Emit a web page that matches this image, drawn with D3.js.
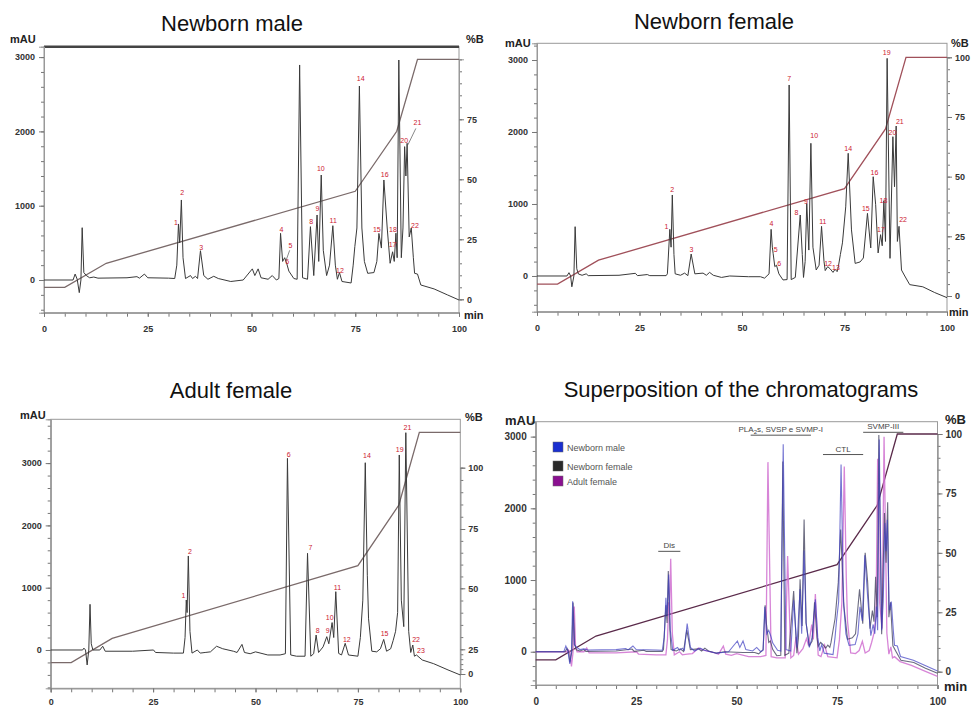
<html>
<script src="https://d3js.org/d3.v7.min.js"></script>
<body style="margin:0;background:#fff">
<svg width="971" height="710"></svg>
<script>
// gradient programme, %B vs min (same for the four runs)
var gradientB = [[0,5],[5,5],[15,15],[75,45],[85,70],[90,100],[100,100]];

// absorbance traces, [min, mAU]
var newbornMale = [[0,0],[7,0],[7.5,80],[8,10],[8.5,-170],[8.9,0],[9.2,704],[9.6,100],[10.2,60],[11,30],[12,40],[13,25],[20,30],[22.4,45],[23,25],[24.2,80],[25,30],[30,25],[31.5,20],[32,200],[32.4,754],[32.7,500],[33.1,1077],[33.5,300],[34.1,20],[35.3,60],[35.8,20],[36.5,50],[37,20],[37.7,394],[38.5,60],[39.5,10],[40.9,50],[42,20],[45,-20],[48,0],[50.2,150],[50.8,60],[51.6,150],[52.3,30],[54,10],[55,60],[56,0],[56.6,20],[57,628],[57.5,250],[58,300],[58.5,220],[59,120],[60.2,20],[61,10],[61.6,2894],[62.3,30],[63.5,10],[64.2,718],[65,60],[65.8,875],[66.2,250],[66.8,1413],[67.3,400],[68.1,60],[68.8,200],[69.6,731],[70.2,200],[70.7,10],[71.2,100],[71.8,-20],[74,-40],[74.5,200],[74.9,450],[75.4,700],[76,2611],[76.6,700],[77.2,250],[78,90],[79.5,100],[80.2,250],[80.7,627],[81.3,430],[81.9,1346],[82.7,700],[83.4,225],[84,380],[84.4,250],[84.8,630],[85.1,300],[85.5,2961],[86.1,300],[86.5,700],[86.9,1795],[87.2,1400],[87.5,1840],[88,580],[88.5,700],[89,300],[89.3,90],[90,80],[90.8,-67],[94,-120],[97.2,-200],[100,-269]];

var newbornFemale = [[0,0],[7.3,0],[7.8,46],[8.2,0],[8.5,-150],[9,0],[9.3,685],[9.7,100],[10.1,28],[11,10],[12,30],[12.5,5],[20,10],[24,37],[24.5,5],[26.9,20],[27.5,5],[31.5,5],[31.8,30],[32.4,648],[32.7,400],[33,1125],[33.4,300],[33.7,30],[35,10],[36,40],[36.8,5],[37.6,305],[38.5,30],[40.5,40],[41.3,10],[42.1,50],[43,10],[45,-20],[47,0],[51.6,-10],[54.5,-10],[55.5,-30],[56.6,30],[57.1,648],[57.4,400],[57.6,310],[58,130],[58.4,150],[59,30],[60,-55],[61,-50],[61.5,2653],[62,-50],[63,-20],[64.2,847],[64.7,300],[65,-20],[65.4,200],[65.8,1009],[66.3,360],[66.8,1843],[67.3,400],[68.1,83],[68.8,150],[69.4,690],[70,200],[70.3,75],[70.9,130],[71.5,100],[72.2,50],[72.7,93],[73.2,60],[73.5,130],[74,300],[74.5,460],[75.3,960],[75.9,1704],[76.7,640],[77.6,175],[78.8,195],[79.6,250],[80.6,870],[81.4,390],[82,1379],[82.6,990],[83.2,320],[83.8,574],[84.2,420],[84.6,1046],[85,480],[85.4,3023],[86.1,245],[86.8,1935],[87.2,1240],[87.6,2083],[87.9,480],[88.3,690],[88.9,83],[89.7,0],[90.9,-120],[94.1,-150],[97,-230],[100,-301]];

var adultFemale = [[0,0],[7.8,0],[8.1,30],[8.5,0],[8.9,-240],[9.3,0],[9.6,733],[9.9,100],[10.3,0],[12,0],[12.7,60],[13.3,-20],[20,-20],[25.1,0],[25.6,-40],[30,-50],[32.4,-50],[32.8,200],[33.1,802],[33.3,600],[33.6,1509],[34,300],[34.5,-50],[35.8,0],[36.5,-50],[37.7,-40],[39,-30],[40.5,60],[42,20],[44.6,-20],[45.5,-40],[46.7,90],[47.3,-40],[48.7,-60],[50,-30],[53,-80],[56,-80],[57.3,-60],[57.8,3076],[58.6,-80],[60,-100],[62.1,-100],[62.7,1552],[63.5,-100],[64.2,-60],[64.8,240],[65.4,-40],[66.5,50],[67.4,214],[67.9,100],[68.7,440],[69.1,200],[69.6,936],[70.3,-55],[71,-80],[71.9,107],[72.7,-80],[75,-100],[75.6,200],[76.2,800],[76.8,3006],[77.3,1200],[77.6,500],[78.4,-20],[79.6,-30],[80.5,20],[81.3,170],[82,-20],[83,20],[83.6,150],[84.2,300],[84.7,600],[85.1,3130],[85.6,800],[86.2,375],[86.7,3488],[87.4,300],[87.9,-40],[88.4,80],[88.8,-100],[89.3,-80],[90.7,-160],[93.5,-220],[97,-320],[100,-401]];

// peak numbers, [label, min, mAU]
var maleLabels = [["1",31.8,771],["2",33.3,1175],["3",37.9,440],["4",57.2,682],["5",59.4,462],["6",58.6,246],["8",64.4,790],["9",65.9,956],["10",66.7,1503],["11",69.7,798],["12",71.3,125],["14",76.3,2705],["15",80.2,673],["16",82.1,1418],["17",84.0,471],["18",84.1,682],["20",86.8,1875],["21",90.0,2122],["22",89.4,731]];
var femaleLabels = [["1",31.6,685],["2",33.0,1194],["3",37.7,370],["4",57.2,722],["5",58.2,361],["6",59.1,176],["7",61.5,2745],["8",63.3,885],["9",65.6,1032],["10",67.6,1949],["11",69.7,754],["12",71.0,176],["13",72.9,121],["14",75.9,1774],["15",80.2,931],["16",82.3,1440],["17",83.9,639],["18",84.5,1046],["19",85.3,3107],["20",86.7,1990],["21",88.5,2149],["22",89.3,778]];
var adultLabels = [["1",32.4,867],["2",34.0,1578],["6",58.1,3141],["7",63.4,1642],["8",65.2,310],["9",67.6,310],["10",68.1,519],["11",70.0,1006],["12",72.3,171],["14",77.2,3114],["15",81.5,268],["19",85.2,3221],["21",87.1,3574],["22",89.2,171],["23",90.4,-16]];

// protein families over the superposition, [label, from min, to min, mAU]
var families = [["Dis",30.5,36,1400],["PLA2s, SVSP e SVMP-I",53.5,68.5,3020],["CTL",71.5,81.5,2750],["SVMP-III",81.5,91.5,3060]];
var seriesNames = ["Newborn male","Newborn female","Adult female"];
var seriesColors = ["#1a2fd0","#2a2a2a","#8a1090"];

var svg = d3.select("svg");

function panel(p) {
  var x = d3.scaleLinear().domain([0,100]).range(p.xr);
  var y = d3.scaleLinear().domain(p.yd).range(p.yr);
  var b = d3.scaleLinear().domain([0,100]).range(p.br);
  var bt = p.bt ? d3.scaleLinear().domain([0,25,50,75,100]).range(p.bt) : b;
  var g = svg.append("g").style("font-family","Liberation Sans, Arial, sans-serif");
  var fs = p.fs || 9;

  g.append("text").attr("x",p.tx).attr("y",p.ty).attr("text-anchor","middle")
    .style("font-size","22px").style("fill","#111").text(p.title);

  g.append("rect").attr("x",x(0)).attr("y",p.yr[1]).attr("width",x(100)-x(0)).attr("height",p.yr[0]-p.yr[1])
    .style("fill","none").style("stroke","#999").style("stroke-width",1);
  if (p.thickTop) g.append("line").attr("x1",x(0)).attr("x2",x(100)).attr("y1",p.yr[1]).attr("y2",p.yr[1])
    .style("stroke","#444").style("stroke-width",2.5);

  var minorY = d3.range(Math.ceil(p.yd[0]/200)*200, p.yd[1], 200);
  g.append("g").attr("transform","translate("+x(0)+",0)")
    .call(d3.axisLeft(y).tickValues(minorY).tickSize(3).tickFormat(""));
  g.append("g").attr("transform","translate("+x(0)+",0)")
    .call(d3.axisLeft(y).tickValues([0,1000,2000,3000]).tickSize(5).tickPadding(4).tickFormat(d3.format("d")));

  g.append("g").attr("transform","translate("+x(100)+",0)")
    .call(d3.axisRight(bt).tickValues(d3.range(0,101,5)).tickSize(3).tickFormat(""));
  g.append("g").attr("transform","translate("+x(100)+",0)")
    .call(d3.axisRight(bt).tickValues(p.bTicks).tickSize(5).tickPadding(3).tickFormat(d3.format("d")));

  g.append("g").attr("transform","translate(0,"+p.yr[0]+")")
    .call(d3.axisBottom(x).tickValues(d3.range(0,101,5)).tickSize(4).tickFormat(""));
  g.append("g").attr("transform","translate(0,"+p.yr[0]+")")
    .call(d3.axisBottom(x).tickValues([0,25,50,75,100]).tickSize(4).tickPadding(p.bpad || 9).tickFormat(d3.format("d")));

  g.selectAll(".domain").style("stroke","#999");
  g.selectAll(".tick line").style("stroke","#777");
  g.selectAll(".tick text").style("font-size",fs+"px").style("font-weight","bold").style("fill","#333")
    .style("font-family","Liberation Sans, Arial, sans-serif");

  var af = p.af || 11;
  g.append("text").attr("x",p.mau[0]).attr("y",p.mau[1]).style("font-size",af+"px").style("font-weight","bold").style("fill","#222").text("mAU");
  g.append("text").attr("x",p.pb[0]).attr("y",p.pb[1]).style("font-size",af+"px").style("font-weight","bold").style("fill","#222").text("%B");
  if (p.mn) g.append("text").attr("x",p.mn[0]).attr("y",p.mn[1]).style("font-size",af+"px").style("font-weight","bold").style("fill","#222").text("min");

  g.append("path").datum(gradientB)
    .attr("d", d3.line().x(function(d){return x(d[0]);}).y(function(d){return b(d[1]);}))
    .style("fill","none").style("stroke",p.gcol).style("stroke-width",1.3);

  return {x:x, y:y, b:b, g:g};
}

function trace(P, data, color, yScale, width, op) {
  var ys = yScale || P.y;
  P.g.append("path").datum(data)
    .attr("d", d3.line().x(function(d){return P.x(d[0]);}).y(function(d){return ys(d[1]);}))
    .style("fill","none").style("stroke",color).style("stroke-width",width || 1).style("opacity",op || 1);
}

function peakLabels(P, labels) {
  P.g.selectAll(null).data(labels).enter().append("text")
    .attr("x",function(d){return P.x(d[1]);}).attr("y",function(d){return P.y(d[2]);})
    .attr("text-anchor","middle").attr("dy","0.35em")
    .style("font-size","7px").style("fill","#cc2030").text(function(d){return d[0];});
}

// Newborn male
var p1 = panel({title:"Newborn male", tx:232, ty:31, xr:[44,459], yd:[-440,3140], yr:[312.7,46.7], br:[299.3,59.3],
  bTicks:[0,25,50,75], thickTop:true, gcol:"#7a6a6a", mau:[10,43], pb:[466,43], mn:[464,319]});
trace(p1, newbornMale, "#3a3a3a");
peakLabels(p1, maleLabels);
p1.g.append("line").attr("x1",p1.x(59.2)).attr("y1",p1.y(400)).attr("x2",p1.x(58.3)).attr("y2",p1.y(260)).style("stroke","#555").style("stroke-width",0.7);
p1.g.append("line").attr("x1",p1.x(89.6)).attr("y1",p1.y(2040)).attr("x2",p1.x(87.7)).attr("y2",p1.y(1820)).style("stroke","#555").style("stroke-width",0.7);

// Newborn female
var p2 = panel({title:"Newborn female", tx:714, ty:29, xr:[537,947], yd:[-496,3232], yr:[311.7,43.3], br:[296,57.3],
  bTicks:[0,25,50,75,100], gcol:"#a0505a", mau:[505,47], pb:[951,47], mn:[949,316]});
trace(p2, newbornFemale, "#3a3a3a");
peakLabels(p2, femaleLabels);

// Adult female
var p3 = panel({title:"Adult female", tx:231, ty:398, xr:[50.7,460.3], yd:[-615,3703], yr:[688.3,419.3], br:[674.8,432.3],
  bt:[674,649.3,588.3,529,467.7], bTicks:[0,25,50,75,100], gcol:"#7a6a6a", mau:[20,419], pb:[465,421], bpad:6});
trace(p3, adultFemale, "#3a3a3a");
peakLabels(p3, adultLabels);

// Superposition
var p4 = panel({title:"Superposition of the chromatograms", tx:741, ty:397, xr:[535.7,937.5], yd:[-464,3208], yr:[685,421.7], br:[671.7,434],
  bTicks:[0,25,50,75,100], gcol:"#5a2a4a", mau:[505,425], pb:[945,424], mn:[944,691], fs:10, af:13});
// the adult run is shown normalised to the newborn runs in the overlay
var yAdult = p4.y.copy().domain([p4.y.domain()[0]*3490/3000, p4.y.domain()[1]*3490/3000]);
trace(p4, adultFemale, "#d070d0", yAdult, 1.3, 0.85);
trace(p4, newbornFemale, "#3a3a55", null, 1.1, 0.75);
trace(p4, newbornMale, "#3c3cc0", null, 1.1, 0.7);

var lg = p4.g.selectAll(null).data(seriesNames).enter().append("g")
  .attr("transform", function(d,i){ return "translate(553," + [442,461,476][i] + ")"; });
lg.append("rect").attr("width",10).attr("height",10).style("fill",function(d,i){return seriesColors[i];}).style("stroke","#666").style("stroke-width",0.5);
lg.append("text").attr("x",14).attr("y",8.5).style("font-size","9px").style("fill","#555").text(function(d){return d;});

families.forEach(function(f) {
  var y0 = p4.y(f[3]);
  p4.g.append("line").attr("x1",p4.x(f[1])).attr("x2",p4.x(f[2])).attr("y1",y0).attr("y2",y0).style("stroke","#555").style("stroke-width",1);
  var t = p4.g.append("text").attr("x",(p4.x(f[1])+p4.x(f[2]))/2).attr("y",y0-3).attr("text-anchor","middle")
    .style("font-size","8px").style("fill","#444");
  if (f[0].indexOf("PLA2s") === 0) {
    t.append("tspan").text("PLA");
    t.append("tspan").attr("dy",2).style("font-size","6px").text("2");
    t.append("tspan").attr("dy",-2).text("s, SVSP e SVMP-I");
  } else t.text(f[0]);
});
</script>
</body>
</html>
